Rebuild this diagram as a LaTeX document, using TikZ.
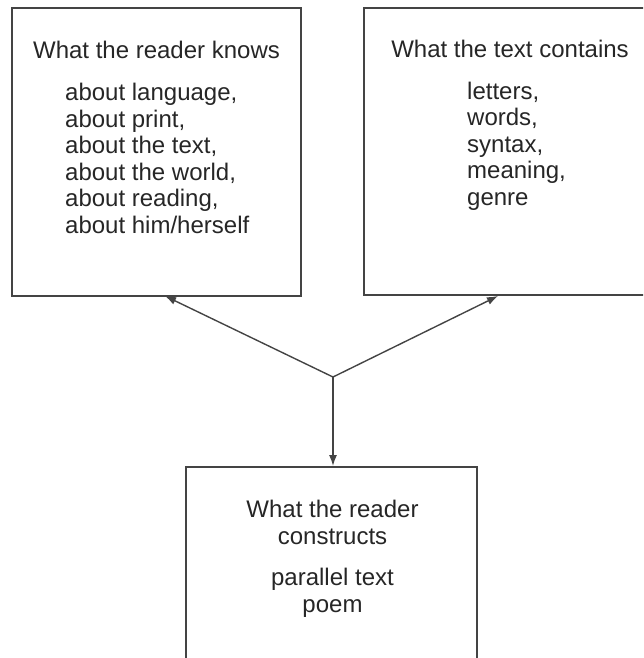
\documentclass[tikz,border=0pt]{standalone}
\usepackage{fontspec}
\setmainfont{Liberation Sans}
\usetikzlibrary{arrows.meta}
\definecolor{inkline}{HTML}{444444}
\definecolor{inktext}{HTML}{262626}
\begin{document}
\begin{tikzpicture}[x=1pt,y=-1pt,
  panel/.style={draw=inkline,line width=2pt,rectangle,inner sep=0pt},
  label/.style={inner sep=0pt,text=inktext,font=\fontsize{24}{26.5}\selectfont},
  listing/.style={label,align=left,anchor=base west},
  heading/.style={label,align=center,anchor=base},
  link/.style={draw=inkline,line width=1.4pt,-{Latex[length=11pt,width=8pt]}}]
\useasboundingbox (0,0) rectangle (643,658);
\clip (0,0) rectangle (643,658);

% the three panels
\node[panel,minimum width=289pt,minimum height=288pt] (knows) at (156.5,152) {};
\node[panel,minimum width=296pt,minimum height=287pt] (contains) at (512,151.5) {};
\node[panel,minimum width=291pt,minimum height=240pt] (constructs) at (331.5,587) {};

% panel texts (multi-line nodes sit on the baseline of their last line)
\node[heading] (knowsT) at (156.5,59) {What the reader knows};
\node[listing] (knowsL) at (65,233) {about language,\\about print,\\about the text,\\about the world,\\about reading,\\about him/herself};
\node[heading] (containsT) at (510,58) {What the text contains};
\node[listing] (containsL) at (467,205) {letters,\\words,\\syntax,\\meaning,\\genre};
\node[heading] (constructsT) at (332.5,544) {What the reader\\constructs};
\node[heading] (constructsL) at (332.5,612) {parallel text\\poem};

% connectors
\coordinate (hub) at (333,377);
\coordinate (ktip) at (165,296);
\coordinate (ctip) at (498,296);
\draw[link] (hub) -- (ktip);
\draw[link] (hub) -- (ctip);
\draw[link] (hub) -- (hub |- constructs.north);
\end{tikzpicture}
\end{document}
